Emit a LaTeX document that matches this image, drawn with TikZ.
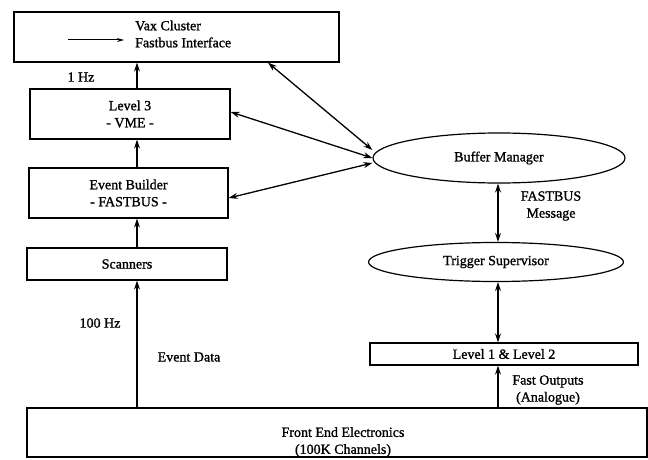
\documentclass[tikz,border=0pt]{standalone}
\usepackage{fontspec}
\setmainfont{Liberation Serif}[FakeBold=1.2]
\usetikzlibrary{shapes.geometric,arrows.meta}
\begin{document}
\begin{tikzpicture}[x=1pt,y=-1pt,
  box/.style={draw,line width=1.3pt,rectangle,inner sep=0pt,align=center,font=\fontsize{14}{17}\selectfont},
  oval/.style={draw,line width=1.2pt,ellipse,inner sep=0pt,font=\fontsize{14}{17}\selectfont},
  lbl/.style={inner sep=0pt,align=center,font=\fontsize{14}{17}\selectfont},
  arr/.style={line width=1.3pt,-{Stealth[length=9pt,width=6pt]}},
  darr/.style={line width=1.3pt,{Stealth[length=9pt,width=6pt]}-{Stealth[length=9pt,width=6pt]}}]
\useasboundingbox (0,0) rectangle (648,460);
% boxes
\node[box,minimum width=325pt,minimum height=50pt] (vax) at (176.5,37) {};
\node[lbl,align=left,anchor=west] (vaxt) at (135,34) {Vax Cluster\\Fastbus Interface};
\coordinate (sa) at (68,40);
\coordinate (sb) at (124,40);
\draw[line width=1pt,-{Stealth[length=7pt,width=4pt]}] (sa) -- (sb);
\node[box,minimum width=200pt,minimum height=50pt] (l3) at (130,114) {Level 3\\- VME -};
\node[box,minimum width=199pt,minimum height=50pt] (eb) at (128.5,193) {Event Builder\\- FASTBUS -};
\node[box,minimum width=200pt,minimum height=32pt] (scan) at (127,264) {Scanners};
\node[box,minimum width=620pt,minimum height=49pt] (fe) at (337,432.5) {};
\node[lbl] (fet) at (343,442) {Front End Electronics\\(100K Channels)};
\node[box,minimum width=268pt,minimum height=22pt] (l12) at (504,354) {Level 1 \& Level 2};
\node[oval,minimum width=252pt,minimum height=50pt] (bm) at (499,158) {Buffer Manager};
\node[oval,minimum width=255pt,minimum height=39pt] (ts) at (496,262) {Trigger Supervisor};
% x positions of vertical connectors
\coordinate (xl) at (137,0);
\coordinate (xr) at (498,0);
\coordinate (xv) at (268,0);
% left column
\draw[arr] (l3.north -| xl) -- (vax.south -| xl);
\draw[arr] (eb.north -| xl) -- (l3.south -| xl);
\draw[arr] (scan.north -| xl) -- (eb.south -| xl);
\draw[arr] (fe.north -| xl) -- (scan.south -| xl);
% right column
\draw[darr] (bm.south -| xr) -- (ts.north -| xr);
\draw[darr] (ts.south -| xr) -- (l12.north -| xr);
\draw[arr] (fe.north -| xr) -- (l12.south -| xr);
% diagonals
\draw[darr] (vax.south -| xv) -- ([yshift=8pt]bm.west);
\draw[darr] ([yshift=2pt]l3.east) -- (bm.west);
\draw[darr] ([yshift=-5pt]eb.east) -- ([yshift=-5pt]bm.west);
% labels
\node[lbl] (hz1) at (81,77) {1 Hz};
\node[lbl] (hz100) at (100,323) {100 Hz};
\node[lbl] (ed) at (189,357) {Event Data};
\node[lbl] (fm) at (551,206) {FASTBUS\\Message};
\node[lbl] (fo) at (548,390) {Fast Outputs\\ (Analogue)};
\end{tikzpicture}
\end{document}
